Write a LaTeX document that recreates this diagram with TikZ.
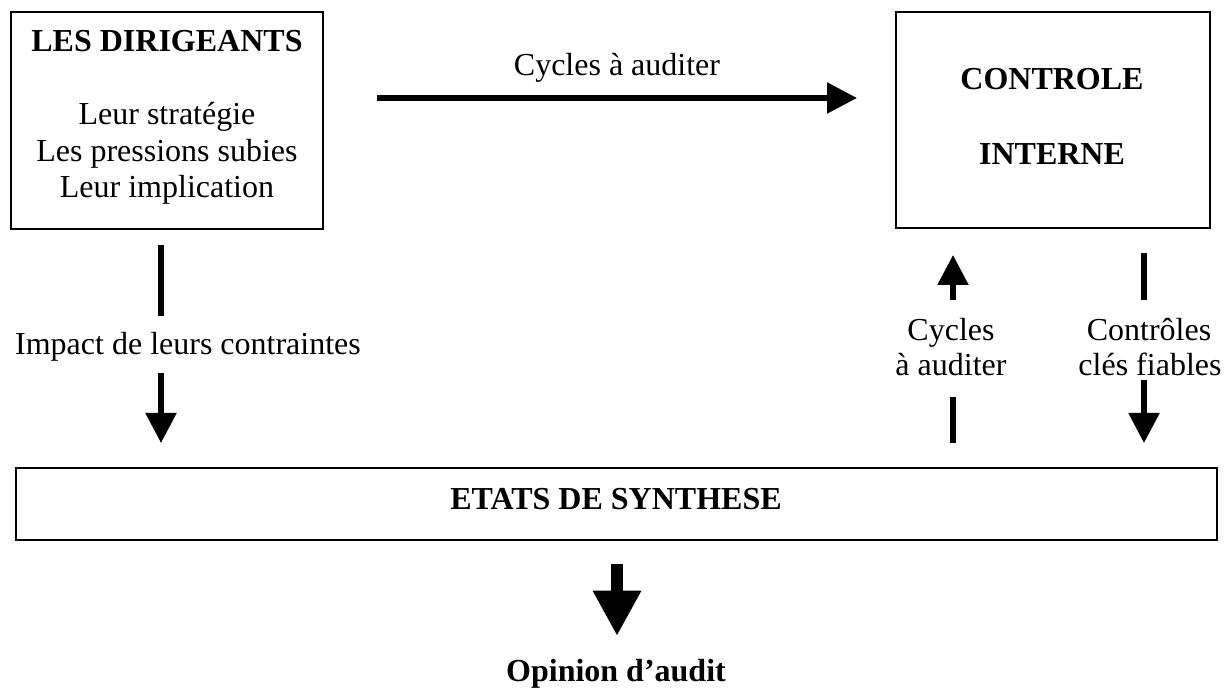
\documentclass[tikz,border=0pt]{standalone}
\usepackage{fontspec}
\setmainfont{Liberation Serif}
\usetikzlibrary{arrows.meta}
\begin{document}
\begin{tikzpicture}[x=0.75pt,y=-0.75pt,
  box/.style={draw=black,line width=1.3pt,inner sep=0pt,fill=white},
  txt/.style={anchor=base,inner sep=0pt,font=\fontsize{24pt}{27.5pt}\selectfont},
  btxt/.style={txt,font=\fontsize{24pt}{27.5pt}\selectfont\bfseries},
  bar/.style={line width=4pt,line cap=butt},
  thin arrow/.style={bar,-{Triangle[length=22.5pt,width=22.5pt]}},
  big arrow/.style={line width=9pt,line cap=butt,-{Triangle[length=34pt,width=34pt]}}]
  \useasboundingbox[fill=white] (0,0) rectangle (1228,691);

  % boxes
  \node[box,minimum width=234pt,minimum height=162.75pt] (dir) at (167,120.5) {};
  \node[box,minimum width=235.5pt,minimum height=162pt] (ci) at (1053,120) {};
  \node[box,minimum width=900.75pt,minimum height=54pt] (etats) at (616.5,504) {};

  % box texts
  \node[btxt] (dirT) at (167,52) {LES DIRIGEANTS};
  \node[txt] (dirA) at (167,125) {Leur stratégie};
  \node[txt] (dirB) at (167,162) {Les pressions subies};
  \node[txt] (dirC) at (167,198) {Leur implication};
  \node[btxt] (ciA) at (1052,90) {CONTROLE};
  \node[btxt] (ciB) at (1052,165) {INTERNE};
  \node[btxt] (etatsT) at (616,509) {ETATS DE SYNTHESE};

  % connector end points
  \coordinate (h1) at (377,98);  \coordinate (h2) at (857,98);
  \coordinate (l1) at (161,245); \coordinate (l2) at (161,316);
  \coordinate (l3) at (161,373); \coordinate (l4) at (161,443);
  \coordinate (m1) at (953,300); \coordinate (m2) at (953,255);
  \coordinate (m3) at (953,397); \coordinate (m4) at (953,443);
  \coordinate (r1) at (1144,253); \coordinate (r2) at (1144,300);
  \coordinate (r3) at (1144,380); \coordinate (r4) at (1144,443);
  \coordinate (b1) at (617,564); \coordinate (b2) at (617,636);

  % connectors
  \draw[thin arrow] (h1) -- (h2);
  \draw[bar] (l1) -- (l2);
  \draw[thin arrow] (l3) -- (l4);
  \draw[thin arrow] (m1) -- (m2);
  \draw[bar] (m3) -- (m4);
  \draw[bar] (r1) -- (r2);
  \draw[thin arrow] (r3) -- (r4);
  \draw[big arrow] (b1) -- (b2);

  % connector labels
  \node[txt] (lh) at (617,76) {Cycles à auditer};
  \node[txt] (ll) at (188,355) {Impact de leurs contraintes};
  \node[txt] (lmA) at (951,341) {Cycles};
  \node[txt] (lmB) at (951,376) {à auditer};
  \node[txt] (lrA) at (1149,341) {Contrôles};
  \node[txt] (lrB) at (1150,376) {clés fiables};
  \node[btxt] (op) at (616,681) {Opinion d’audit};
\end{tikzpicture}
\end{document}
